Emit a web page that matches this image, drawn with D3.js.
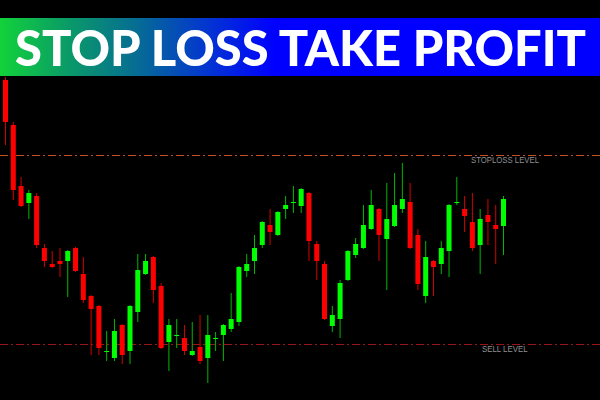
<!DOCTYPE html>
<html>
<head>
<meta charset="utf-8">
<script src="https://cdn.jsdelivr.net/npm/d3@7"></script>
<style>
  html, body { margin: 0; padding: 0; background: #000; }
  svg { display: block; }
</style>
</head>
<body>
<svg id="chart" width="600" height="400"></svg>
<script>
// ---- data ----
const titleText = "STOP LOSS TAKE PROFIT";
const levelNames = ["STOPLOSS LEVEL", "SELL LEVEL"];
const levelValues = [1.1245, 1.1056];

const opens  = [1.1320,1.1275,1.1214,1.1197,1.1204,1.1152,1.1136,1.1139,1.1139,1.1152,
                1.1126,1.1104,1.1094,1.1048,1.1042,1.1075,1.1049,1.1088,1.1126,1.1143,
                1.1114,1.1058,1.1064,1.1062,1.1045,1.1053,1.1042,1.1061,1.1065,1.1071,
                1.1078,1.1129,1.1139,1.1155,1.1175,1.1165,1.1191,1.1197,1.1194,1.1207,
                1.1156,1.1136,1.1074,1.1081,1.1120,1.1145,1.1152,1.1171,1.1191,1.1161,
                1.1174,1.1191,1.1198,1.1165,1.1104,1.1139,1.1136,1.1149,1.1197,1.1191,
                1.1178,1.1155,1.1185,1.1175,1.1174];
const highs  = [1.1323,1.1278,1.1223,1.1210,1.1207,1.1156,1.1149,1.1152,1.1150,1.1153,
                1.1143,1.1105,1.1095,1.1069,1.1081,1.1076,1.1095,1.1146,1.1146,1.1144,
                1.1117,1.1081,1.1081,1.1075,1.1078,1.1085,1.1085,1.1068,1.1076,1.1107,
                1.1134,1.1146,1.1165,1.1179,1.1191,1.1189,1.1204,1.1214,1.1212,1.1208,
                1.1159,1.1139,1.1094,1.1120,1.1150,1.1162,1.1195,1.1210,1.1192,1.1217,
                1.1227,1.1237,1.1217,1.1171,1.1159,1.1140,1.1159,1.1196,1.1223,1.1204,
                1.1207,1.1191,1.1201,1.1195,1.1204];
const lows   = [1.1255,1.1200,1.1193,1.1181,1.1152,1.1133,1.1132,1.1123,1.1103,1.1128,
                1.1097,1.1045,1.1045,1.1039,1.1039,1.1036,1.1036,1.1078,1.1125,1.1097,
                1.1051,1.1029,1.1052,1.1045,1.1044,1.1036,1.1017,1.1049,1.1039,1.1068,
                1.1074,1.1123,1.1126,1.1152,1.1155,1.1164,1.1181,1.1187,1.1187,1.1139,
                1.1120,1.1080,1.1068,1.1062,1.1119,1.1142,1.1151,1.1170,1.1139,1.1110,
                1.1173,1.1187,1.1151,1.1110,1.1097,1.1104,1.1126,1.1123,1.1195,1.1168,
                1.1149,1.1126,1.1155,1.1136,1.1145];
const closes = [1.1278,1.1210,1.1194,1.1207,1.1155,1.1139,1.1133,1.1136,1.1149,1.1129,
                1.1100,1.1091,1.1052,1.1049,1.1069,1.1045,1.1094,1.1130,1.1139,1.1110,
                1.1052,1.1075,1.1065,1.1049,1.1049,1.1039,1.1065,1.1062,1.1075,1.1081,
                1.1133,1.1136,1.1152,1.1178,1.1168,1.1188,1.1195,1.1198,1.1211,1.1159,
                1.1139,1.1081,1.1085,1.1117,1.1149,1.1156,1.1175,1.1195,1.1165,1.1181,
                1.1195,1.1201,1.1152,1.1116,1.1143,1.1133,1.1152,1.1195,1.1198,1.1184,
                1.1152,1.1181,1.1178,1.1171,1.1201];

const candles = opens.map((o, i) => ({ i, o, h: highs[i], l: lows[i], c: closes[i] }));

// ---- drawing ----
const W = 600, H = 400;
const svg = d3.select("#chart");
svg.append("rect").attr("width", W).attr("height", H).attr("fill", "#000");

const x = d3.scaleLinear().domain([0, candles.length - 1]).range([5.5, 503.5]);
const y = d3.scaleLinear().domain([1.1000, 1.1400]).range([400, 0]);
const bodyW = 5;

const up = d => d.c >= d.o;

// level lines
const lvlColors = ["#c8501e", "#9a1414"];
const lvl = svg.append("g");
levelValues.forEach((v, k) => {
  lvl.append("line")
    .attr("x1", 0).attr("x2", W)
    .attr("y1", Math.round(y(v)) + 0.5).attr("y2", Math.round(y(v)) + 0.5)
    .attr("stroke", lvlColors[k]).attr("stroke-width", 1.2)
    .attr("stroke-dasharray", "8,3,2,3");
});

// candles
const g = svg.append("g");
g.selectAll("line.wick").data(candles).join("line")
  .attr("class", "wick")
  .attr("x1", d => x(d.i)).attr("x2", d => x(d.i))
  .attr("y1", d => y(d.h)).attr("y2", d => y(d.l))
  .attr("stroke", d => up(d) ? "#00b800" : "#d40000")
  .attr("stroke-width", 1);

g.selectAll("rect.body").data(candles).join("rect")
  .attr("class", "body")
  .attr("x", d => x(d.i) - bodyW / 2)
  .attr("width", bodyW)
  .attr("y", d => y(Math.max(d.o, d.c)))
  .attr("height", d => Math.max(1, Math.abs(y(d.o) - y(d.c))))
  .attr("fill", d => up(d) ? "#00ff00" : "#ff0000");

// level labels
const labelSpec = [
  { x: 471, w: 68, dy: 7.5 },
  { x: 482, w: 45.5, dy: 8.3 }
];
levelValues.forEach((v, k) => {
  svg.append("text")
    .attr("x", labelSpec[k].x)
    .attr("y", y(v) + labelSpec[k].dy)
    .attr("font-family", "Liberation Sans, Arial, sans-serif")
    .attr("font-size", 9.5)
    .attr("fill", "#909090")
    .attr("textLength", labelSpec[k].w)
    .attr("lengthAdjust", "spacingAndGlyphs")
    .text(levelNames[k]);
});

// title banner
const defs = svg.append("defs");
const grad = defs.append("linearGradient")
  .attr("id", "bannerGrad")
  .attr("gradientUnits", "userSpaceOnUse")
  .attr("x1", 0).attr("x2", 275).attr("y1", 0).attr("y2", 0);
[["0", "#12d23a"], ["0.25", "#0a9a68"], ["0.5", "#066c94"], ["0.75", "#0336d0"], ["1", "#0000ff"]]
  .forEach(s => grad.append("stop").attr("offset", s[0]).attr("stop-color", s[1]));

svg.append("rect")
  .attr("x", 0).attr("y", 18).attr("width", W).attr("height", 58)
  .attr("fill", "url(#bannerGrad)");

svg.append("text")
  .attr("x", 15).attr("y", 65.5)
  .attr("font-family", "Lato, 'Open Sans', sans-serif")
  .attr("font-weight", 900)
  .attr("font-size", 50)
  .attr("fill", "#ffffff")
  .attr("textLength", 571)
  .attr("lengthAdjust", "spacingAndGlyphs")
  .text(titleText);
</script>
</body>
</html>
